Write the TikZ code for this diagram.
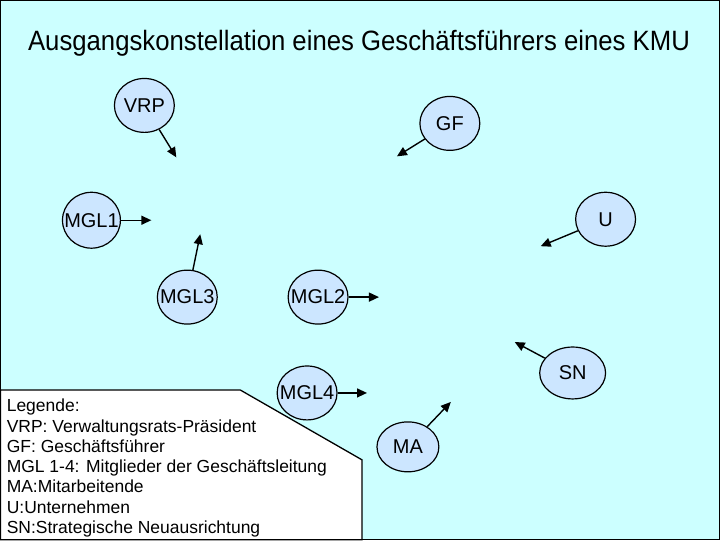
\documentclass[tikz,border=0pt]{standalone}
\usepackage{fontspec}
\setmainfont{Liberation Sans}
\newfontfamily\titlefont[FakeStretch=0.92]{Liberation Sans}
\usetikzlibrary{positioning, arrows.meta, shapes.geometric}
\usepackage{xcolor}
\definecolor{bgcyan}{HTML}{CCFFFF}
\definecolor{nodeblue}{HTML}{CCE6FF}

\begin{document}
\begin{tikzpicture}[
        x=1pt, y=-1pt,
        person/.style={ellipse, draw, line width=1.2pt, fill=nodeblue, minimum width=60pt, minimum height=54pt, inner sep=0pt, font=\fontsize{20}{22}\selectfont},
        arrow/.style={-{Triangle[length=10pt, width=9pt]}, line width=1.4pt}
    ]
        % Background and frame
        \fill[bgcyan] (0,0) rectangle (720,540);
        \draw[line width=1.2pt] (0,0) rectangle (720,540);
        \useasboundingbox (0,0) rectangle (720,540);

        % Title
        \node (title) at (359,43) {\titlefont\fontsize{28}{30}\selectfont Ausgangskonstellation eines Geschäftsführers eines KMU};

        % Persons
        \node (vrp) [person] at (144,105) {\makebox[0pt]{VRP}};
        \node (gf) [person] at (450,123) {\makebox[0pt]{GF}};
        \node (mgl1) [person, minimum width=58pt, minimum height=56pt] at (91,220) {\makebox[0pt]{MGL1}};
        \node (u) [person] at (606,219) {\makebox[0pt]{U}};
        \node (mgl3) [person] at (187,297) {\makebox[0pt]{MGL3}};
        \node (mgl2) [person] at (318,297) {\makebox[0pt]{MGL2}};
        \node (sn) [person, minimum width=66pt, minimum height=52pt] at (573,373) {\makebox[0pt]{SN}};
        \node (mgl4) [person] at (307,393) {\makebox[0pt]{MGL4}};
        \node (ma) [person, minimum width=62pt, minimum height=50pt] at (408,447) {\makebox[0pt]{MA}};

        % Arrow ends
        \coordinate (vrpEnd) at (176,157);
        \coordinate (gfEnd) at (397,156);
        \coordinate (mgl1End) at (151,220);
        \coordinate (uEnd) at (541,246);
        \coordinate (mgl3End) at (200,234);
        \coordinate (mgl2End) at (379,297);
        \coordinate (snEnd) at (515,342);
        \coordinate (mgl4End) at (367,393);
        \coordinate (maEnd) at (451,402);

        % Arrows
        \draw [arrow] (vrp) -- (vrpEnd);
        \draw [arrow] (gf) -- (gfEnd);
        \draw [arrow] (mgl1) -- (mgl1End);
        \draw [arrow] (u) -- (uEnd);
        \draw [arrow] (mgl3) -- (mgl3End);
        \draw [arrow] (mgl2) -- (mgl2End);
        \draw [arrow] (sn) -- (snEnd);
        \draw [arrow] (mgl4) -- (mgl4End);
        \draw [arrow] (ma) -- (maEnd);

        % Legend
        \draw[fill=white, line width=1.3pt] (0,390) -- (240,390) -- (362,460) -- (362,540) -- (0,540) -- cycle;
        \node (legend) [anchor=north west, inner sep=0pt, align=left, font=\fontsize{17.5}{20.3}\selectfont] at (6,399)
            {Legende:\\
             VRP: Verwaltungsrats-Präsident\\
             GF: Geschäftsführer\\
             MGL 1-4: Mitglieder der Geschäftsleitung\\
             MA:Mitarbeitende\\
             U:Unternehmen\\
             SN:Strategische Neuausrichtung};
    \end{tikzpicture}
\end{document}
